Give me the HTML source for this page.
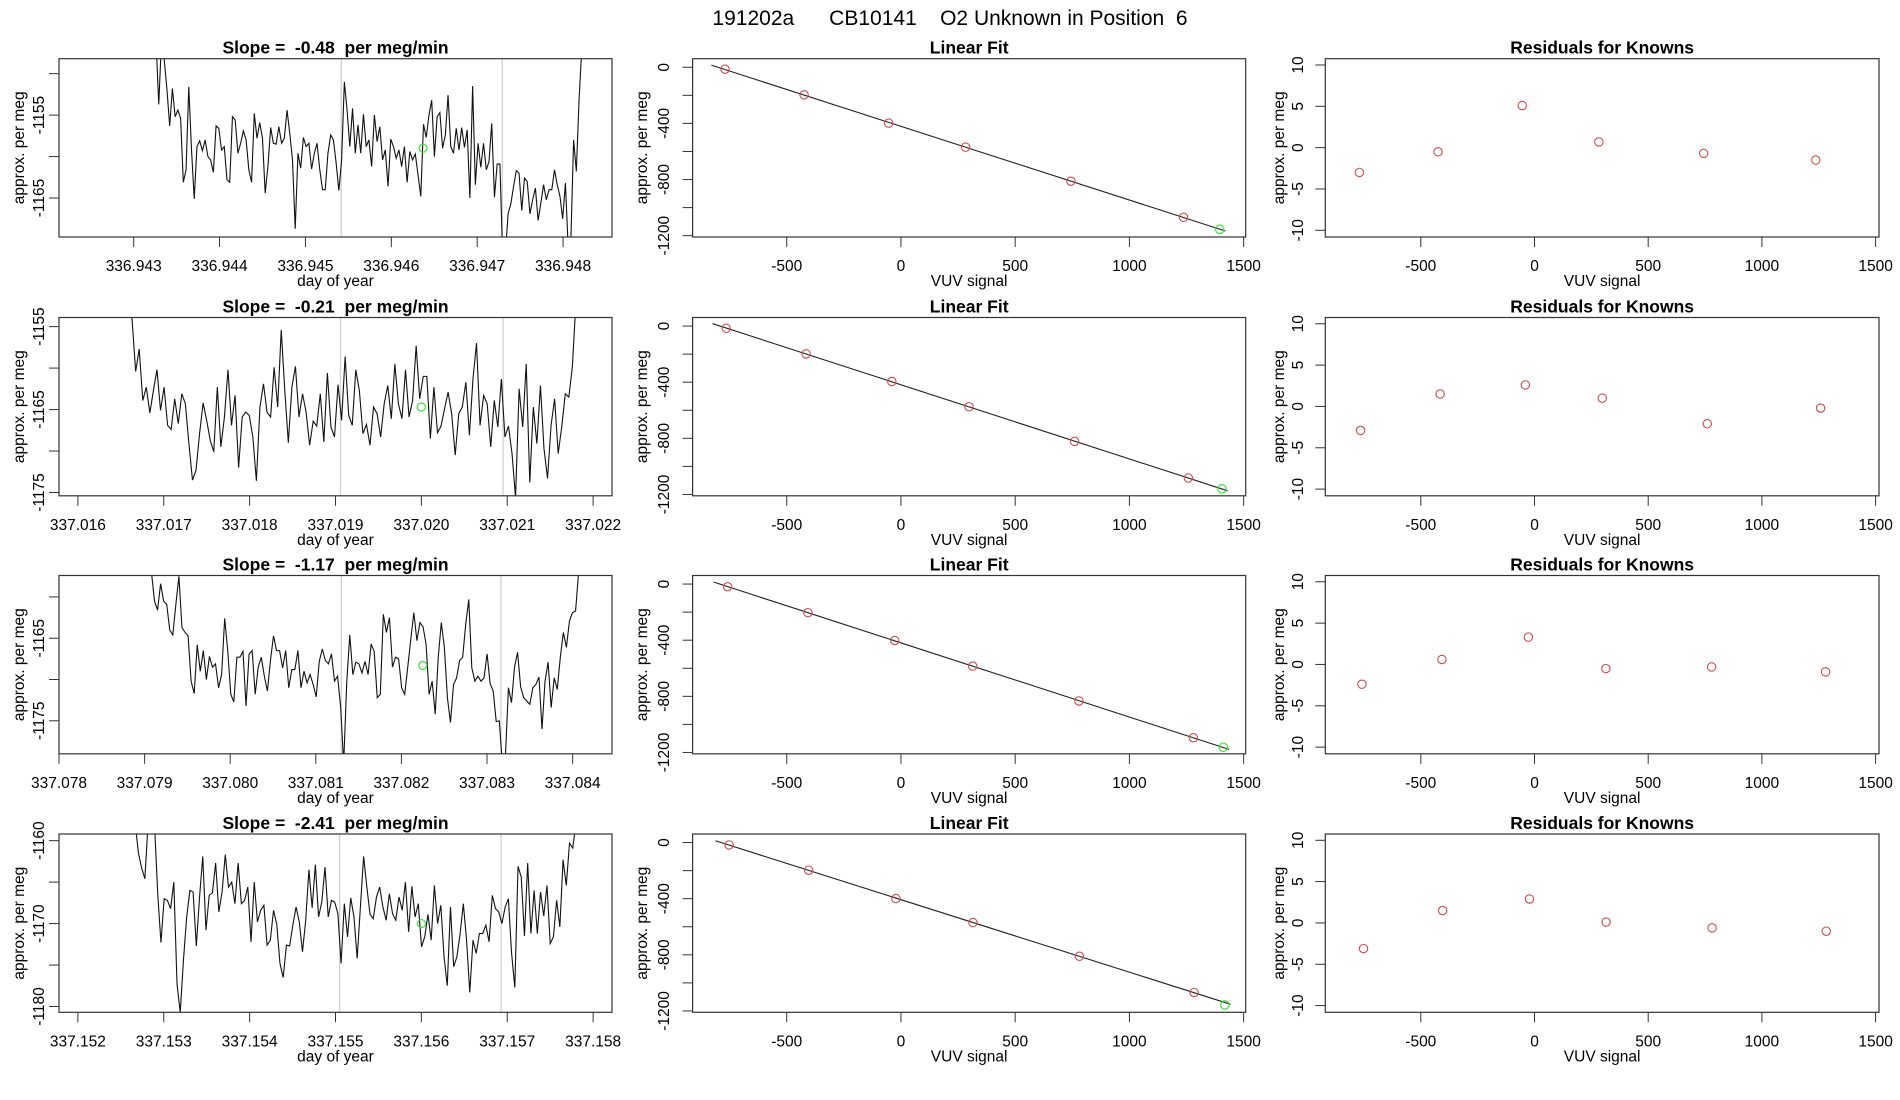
<!DOCTYPE html>
<html><head><meta charset="utf-8"><title>191202a CB10141 O2 Unknown in Position 6</title>
<style>
html,body{margin:0;padding:0;background:#fff;}
svg{display:block;font-family:"Liberation Sans",sans-serif;}
</style></head>
<body>
<svg id="chart" width="1900" height="1100" viewBox="0 0 1900 1100" xmlns="http://www.w3.org/2000/svg">
<rect width="1900" height="1100" fill="#fff"/>
<text x="950" y="25" font-size="21" text-anchor="middle" xml:space="preserve" style="white-space:pre">191202a      CB10141    O2 Unknown in Position  6</text>
</svg>
<script>
// ---------- time series data ----------
const tsStart = [336.94326, 337.01659, 337.07908, 337.15263];
const tsEnd = [336.94825, 337.02180, 337.08407, 337.15780];
const tsDomain = [[336.94213, 336.94857], [337.01578, 337.02222], [337.07800, 337.08446], [337.15178, 337.15822]];
const tsYRange = [[-1169.7, -1148.2], [-1175.4, -1153.9], [-1179.0, -1157.4], [-1180.7, -1159.2]];
const tsYTicks = [[-1165, -1160, -1155, -1150], [-1175, -1170, -1165, -1160, -1155], [-1175, -1170, -1165, -1160], [-1180, -1175, -1170, -1165, -1160]];
const tsYLabels = [[-1165, -1155], [-1175, -1165, -1155], [-1175, -1165], [-1180, -1170, -1160]];
const tsSlopes = ["-0.48", "-0.21", "-1.17", "-2.41"];
const tsGreyLines = [[336.945417, 336.947293], [337.019058, 337.020951], [337.081298, 337.083163], [337.155048, 337.156929]];
const tsUnknownT = [336.94637, 337.02000, 337.08225, 337.15600];
const tsUnknownV = [-1159.0, -1164.7, -1168.3, -1170.0];

const ts1 = [-1146,-1153.7,-1146,-1148.3,-1151.9,-1156.3,-1151.8,-1155.2,-1154.4,-1155.4,-1163.1,-1161.6,-1151.6,-1159.2,-1165.1,-1158.8,-1158.1,-1159.3,-1158.0,-1160.0,-1160.4,-1161.9,-1156.3,-1156.6,-1159.2,-1158.8,-1162.8,-1163.1,-1155.2,-1155.6,-1159.6,-1158.4,-1156.9,-1158.0,-1161.6,-1163.1,-1154.8,-1157.8,-1155.9,-1157.8,-1164.4,-1161.2,-1156.5,-1158.4,-1158.5,-1156.4,-1158.4,-1157.8,-1154.4,-1157.2,-1160.4,-1168.7,-1159.6,-1161.4,-1157.7,-1158.8,-1158.4,-1161.5,-1159.6,-1158.4,-1161.6,-1164.0,-1164.0,-1159.6,-1157.4,-1158.0,-1160.8,-1164.1,-1160.4,-1151.0,-1154.4,-1158.8,-1154.2,-1159.6,-1156.2,-1159.6,-1154.9,-1158.8,-1158.0,-1161.2,-1155.0,-1158.2,-1156.4,-1160.4,-1159.2,-1163.6,-1157.9,-1158.8,-1160.2,-1159.2,-1161.2,-1158.8,-1163.1,-1159.4,-1160.4,-1159.7,-1162.2,-1164.8,-1156.1,-1157.7,-1155.0,-1153.2,-1160.0,-1155.2,-1154.7,-1159.0,-1157.4,-1152.6,-1158.8,-1159.6,-1156.6,-1159.2,-1156.5,-1158.9,-1156.8,-1165.0,-1151.5,-1163.4,-1158.4,-1161.3,-1158.4,-1161.6,-1160.6,-1156.0,-1164.9,-1160.9,-1160.9,-1172,-1171.7,-1166.9,-1165.7,-1163.6,-1161.7,-1162.0,-1166.5,-1162.6,-1163.0,-1166.9,-1165.2,-1163.8,-1167.7,-1165.6,-1163.4,-1165.2,-1164.0,-1164.0,-1161.6,-1163.4,-1164.8,-1167.5,-1163.2,-1170.9,-1170,-1158.0,-1161.8,-1153.1,-1147,-1144];
const ts2 = [-1152,-1154.2,-1160.4,-1157.7,-1163.9,-1162.3,-1165.4,-1162.7,-1160.2,-1165.1,-1162.3,-1166.9,-1167.4,-1163.7,-1166.7,-1163.1,-1164.3,-1169.1,-1173.5,-1172.3,-1167.9,-1164.2,-1166.3,-1168.7,-1170.1,-1162.3,-1169.5,-1165.9,-1160.2,-1166.9,-1163.3,-1172.0,-1165.9,-1165.3,-1165.7,-1168.3,-1173.6,-1164.7,-1161.9,-1165.3,-1165.9,-1159.9,-1164.7,-1155.4,-1162.7,-1169.0,-1162.3,-1159.8,-1165.9,-1163.1,-1165.3,-1169.3,-1166.4,-1167.0,-1163.1,-1168.9,-1160.6,-1167.1,-1168.3,-1162.0,-1166.3,-1158.6,-1165.7,-1166.9,-1160.2,-1162.7,-1167.9,-1166.8,-1169.3,-1164.7,-1165.5,-1168.3,-1164.3,-1162.1,-1166.1,-1159.5,-1164.3,-1166.1,-1160.2,-1165.9,-1163.9,-1157.3,-1163.7,-1161.0,-1161.0,-1168.5,-1162.3,-1167.8,-1167.0,-1164.9,-1162.9,-1165.5,-1170.5,-1165.5,-1164.7,-1161.7,-1168.1,-1161.3,-1157.0,-1166.9,-1163.3,-1164.3,-1169.5,-1163.9,-1167.1,-1161.3,-1168.3,-1167.0,-1170.3,-1175.6,-1162.5,-1167.1,-1159.5,-1173.8,-1164.7,-1169.1,-1162.1,-1169.7,-1173.3,-1166.9,-1163.7,-1170.3,-1167.1,-1163.1,-1163.5,-1159.8,-1152];
const ts3 = [-1157,-1160.5,-1161.6,-1158.4,-1160.5,-1160.9,-1164.0,-1164.6,-1160.9,-1157.5,-1163.7,-1164.3,-1164.7,-1170.2,-1171.7,-1165.8,-1169.0,-1166.5,-1170.0,-1167.2,-1168.5,-1168.1,-1171.0,-1169.4,-1162.6,-1166.5,-1171.8,-1172.7,-1167.3,-1167.3,-1166.6,-1173.2,-1166.9,-1166.5,-1171.8,-1168.5,-1167.3,-1169.6,-1171.4,-1167.7,-1164.7,-1166.5,-1166.5,-1168.6,-1166.5,-1171.0,-1168.8,-1168.8,-1166.5,-1171.0,-1169.0,-1170.4,-1169.4,-1170.6,-1172.1,-1167.8,-1166.3,-1167.7,-1168.1,-1166.9,-1170.2,-1169.6,-1173.3,-1180.2,-1170.4,-1164.6,-1169.4,-1167.9,-1168.1,-1169.2,-1167.8,-1169.4,-1165.7,-1166.6,-1172.2,-1171.8,-1162.1,-1164.3,-1162.5,-1168.5,-1167.3,-1167.5,-1171.0,-1171.8,-1168.5,-1165.1,-1161.9,-1165.3,-1163.1,-1163.6,-1165.7,-1171.8,-1170.2,-1174.2,-1167.3,-1163.1,-1166.1,-1172.2,-1175.2,-1170.6,-1169.8,-1167.7,-1167.3,-1163.3,-1160.3,-1168.6,-1170.2,-1169.6,-1170.2,-1169.8,-1166.9,-1170.5,-1171.4,-1175.1,-1175.0,-1180.2,-1179.4,-1171.0,-1172.8,-1168.5,-1166.7,-1170.9,-1172.2,-1172.6,-1173.0,-1171.0,-1170.6,-1169.7,-1176.0,-1170.2,-1167.9,-1173.4,-1169.8,-1171.2,-1167.3,-1164.3,-1166.1,-1162.9,-1161.9,-1161.7,-1157];
const ts4 = [-1158,-1158,-1161.5,-1163.3,-1164.6,-1158,-1158,-1158,-1166.4,-1172.3,-1167.0,-1167.2,-1168.2,-1165.0,-1177.3,-1180.7,-1174.4,-1169.2,-1166.0,-1166.2,-1172.7,-1166.8,-1161.9,-1170.8,-1166.6,-1166.3,-1162.7,-1168.6,-1166.2,-1161.7,-1165.6,-1165.0,-1167.6,-1162.7,-1167.6,-1167.2,-1165.6,-1172.2,-1165.0,-1169.8,-1168.4,-1167.8,-1172.6,-1172.0,-1168.4,-1170.1,-1174.8,-1176.5,-1172.6,-1172.7,-1170.2,-1168.0,-1169.8,-1173.4,-1169.6,-1163.5,-1168.1,-1162.9,-1169.2,-1167.4,-1163.2,-1169.2,-1167.2,-1167.4,-1168.8,-1174.8,-1167.6,-1171.6,-1166.9,-1169.2,-1174.2,-1168.0,-1161.9,-1165.6,-1168.9,-1169.4,-1166.8,-1165.6,-1168.0,-1169.6,-1166.4,-1168.8,-1169.6,-1166.8,-1168.4,-1165.0,-1171.0,-1165.5,-1169.2,-1167.6,-1172.8,-1171.6,-1168.9,-1172.0,-1165.4,-1170.0,-1167.8,-1174.0,-1177.5,-1168.0,-1175.2,-1174.0,-1171.2,-1167.6,-1172.0,-1178.3,-1172.0,-1173.6,-1171.2,-1171.2,-1170.2,-1172.2,-1166.6,-1168.2,-1168.6,-1170.0,-1168.0,-1167.0,-1173.6,-1177.7,-1163.1,-1164.4,-1171.5,-1162.7,-1171.2,-1166.0,-1171.2,-1166.2,-1169.1,-1165.4,-1172.4,-1171.6,-1167.2,-1170.4,-1162.3,-1165.4,-1160.3,-1160.9,-1158];
const tsValues = [ts1, ts2, ts3, ts4];

// ---------- linear fit / residual data ----------
const fitX1 = [-770, -424, -54, 283, 744, 1237];
const fitX2 = [-765, -415, -40, 298, 760, 1258];
const fitX3 = [-759, -407, -27, 314, 779, 1280];
const fitX4 = [-752, -404, -22, 315, 781, 1283];
const fitY1 = [-14, -197, -398, -569, -812, -1069];
const fitY2 = [-16, -198, -395, -575, -822, -1083];
const fitY3 = [-19, -204, -402, -585, -833, -1095];
const fitY4 = [-17, -197, -399, -570, -810, -1069];
const unknownX = [1395, 1405, 1411, 1418];
const unknownY = [-1155, -1160, -1163, -1157];
const resid1 = [-3.0, -0.5, 5.1, 0.7, -0.7, -1.5];
const resid2 = [-2.9, 1.5, 2.6, 1.0, -2.1, -0.2];
const resid3 = [-2.4, 0.6, 3.3, -0.5, -0.3, -0.9];
const resid4 = [-3.1, 1.5, 2.9, 0.1, -0.6, -1.0];
const fitXs = [fitX1, fitX2, fitX3, fitX4];
const fitYs = [fitY1, fitY2, fitY3, fitY4];
const resids = [resid1, resid2, resid3, resid4];
const fitXTicks = [-500, 0, 500, 1000, 1500];
const fitYTicks = [0, -200, -400, -600, -800, -1000, -1200];
const fitYLabels = [0, -400, -800, -1200];
const resYTicks = [-10, -5, 0, 5, 10];

// ---------- layout ----------
const NS = "http://www.w3.org/2000/svg";
const svg = document.getElementById("chart");
const rowTops = [58.7, 317.5, 575.5, 834];
const boxH = 178.3;
const cols = [[59, 612], [692.6, 1245.7], [1325.3, 1879]];
const fitDomX = [-912, 1509], fitDomY = [-1209.5, 61];
const resDomX = [-920, 1515], resDomY = [-10.81, 10.76];

function mk(tag, attrs, parent) {
  const e = document.createElementNS(NS, tag);
  for (const k in attrs) e.setAttribute(k, attrs[k]);
  (parent || svg).appendChild(e);
  return e;
}
function scale(d0, d1, r0, r1) { return v => r0 + (v - d0) / (d1 - d0) * (r1 - r0); }

function frame(g, x0, x1, top, title, name) {
  const b = mk("rect", {x: x0, y: top, width: x1 - x0, height: boxH, fill: "none", stroke: "#333", "stroke-width": 1.2}, g);
  
  
  const t = mk("text", {x: (x0 + x1) / 2, y: top - 5, "font-size": 17.5, "font-weight": "bold", "text-anchor": "middle", style: "white-space:pre"}, g);
  t.setAttributeNS("http://www.w3.org/XML/1998/namespace", "xml:space", "preserve");
  t.textContent = title;
  
  
}
function xAxis(g, sx, ticks, fmt, bottom, label, name, cx) {
  ticks.forEach(v => {
    const x = sx(v);
    const l = mk("line", {x1: x, x2: x, y1: bottom, y2: bottom + 10, stroke: "#333", "stroke-width": 1}, g);
    
    
    const t = mk("text", {x: x, y: bottom + 34, "font-size": 15.5, "text-anchor": "middle"}, g);
    t.textContent = fmt(v);
    
    
  });
  const t = mk("text", {x: cx, y: bottom + 49, "font-size": 15.5, "text-anchor": "middle"}, g);
  t.textContent = label;
  
  
}
function yAxis(g, sy, x0, ticks, labels, labelX, titleX, top, name) {
  ticks.forEach(v => {
    const y = sy(v);
    const l = mk("line", {x1: x0 - 10, x2: x0, y1: y, y2: y, stroke: "#333", "stroke-width": 1}, g);
    
    
  });
  labels.forEach(v => {
    const y = sy(v);
    const t = mk("text", {x: labelX, y: y, "font-size": 15.5, "text-anchor": "middle", transform: "rotate(-90 " + labelX + " " + y + ")"}, g);
    t.textContent = String(v);
    
    
  });
  const cy = top + boxH / 2;
  const t = mk("text", {x: titleX, y: cy, "font-size": 15.5, "text-anchor": "middle", transform: "rotate(-90 " + titleX + " " + cy + ")"}, g);
  t.textContent = "approx. per meg";
  
  
}

for (let r = 0; r < 4; r++) {
  const top = rowTops[r], bottom = top + boxH;
  // ----- time series -----
  const g1 = mk("g", {});
  
  
  const [ax0, ax1] = cols[0];
  const sx = scale(tsDomain[r][0], tsDomain[r][1], ax0, ax1);
  const sy = scale(tsYRange[r][0], tsYRange[r][1], bottom, top);
  const clip = mk("clipPath", {id: "clip" + r}, g1);
  mk("rect", {x: ax0, y: top, width: ax1 - ax0, height: boxH}, clip);
  tsGreyLines[r].forEach(v => {
    const l = mk("line", {x1: sx(v), x2: sx(v), y1: top, y2: bottom, stroke: "#d0d0d0", "stroke-width": 1.3}, g1);
    
    
  });
  const vals = tsValues[r];
  const n = vals.length;
  const pts = vals.map((v, i) => {
    const t = tsStart[r] + (tsEnd[r] - tsStart[r]) * i / (n - 1);
    return sx(t).toFixed(2) + "," + sy(v).toFixed(2);
  }).join(" ");
  const pl = mk("polyline", {points: pts, fill: "none", stroke: "#111", "stroke-width": 1.1, "clip-path": "url(#clip" + r + ")"}, g1);
  
  
  const gc = mk("circle", {cx: sx(tsUnknownT[r]), cy: sy(tsUnknownV[r]), r: 4, fill: "none", stroke: "#3ee23e", "stroke-width": 1.2}, g1);
  
  
  frame(g1, ax0, ax1, top, "Slope =  " + tsSlopes[r] + "  per meg/min", "slope");
  const tk = [];
  for (let k = Math.ceil(tsDomain[r][0] * 1000 - 1e-6); k <= Math.floor(tsDomain[r][1] * 1000 + 1e-6); k++) tk.push(k / 1000);
  xAxis(g1, sx, tk, v => v.toFixed(3), bottom, "day of year", "time-series", (ax0 + ax1) / 2);
  yAxis(g1, sy, ax0, tsYTicks[r], tsYLabels[r], 44, 24, top, "time-series");

  // ----- linear fit -----
  const g2 = mk("g", {});
  
  
  const [bx0, bx1] = cols[1];
  const fx = scale(fitDomX[0], fitDomX[1], bx0, bx1);
  const fy = scale(fitDomY[0], fitDomY[1], bottom, top);
  const X = fitXs[r], Y = fitYs[r];
  const mx = X.reduce((a, b) => a + b, 0) / X.length, my = Y.reduce((a, b) => a + b, 0) / Y.length;
  let sxy = 0, sxx = 0;
  X.forEach((x, i) => { sxy += (x - mx) * (Y[i] - my); sxx += (x - mx) * (x - mx); });
  const slope = sxy / sxx, icpt = my - slope * mx;
  const lx0 = X[0] - 60, lx1 = unknownX[r] + 25;
  const fl = mk("line", {x1: fx(lx0), y1: fy(icpt + slope * lx0), x2: fx(lx1), y2: fy(icpt + slope * lx1), stroke: "#222", "stroke-width": 1.1}, g2);
  
  
  X.forEach((x, i) => {
    const c = mk("circle", {cx: fx(x), cy: fy(Y[i]), r: 4.2, fill: "none", stroke: "#d24b4b", "stroke-width": 1.1}, g2);
    
    
  });
  const uc = mk("circle", {cx: fx(unknownX[r]), cy: fy(unknownY[r]), r: 4.2, fill: "none", stroke: "#3ee23e", "stroke-width": 1.2}, g2);
  
  
  frame(g2, bx0, bx1, top, "Linear Fit", "linear-fit");
  xAxis(g2, fx, fitXTicks, v => String(v), bottom, "VUV signal", "linear-fit", (bx0 + bx1) / 2);
  yAxis(g2, fy, bx0, fitYTicks, fitYLabels, 669, 647, top, "linear-fit");

  // ----- residuals -----
  const g3 = mk("g", {});
  
  
  const [cx0, cx1] = cols[2];
  const rx = scale(resDomX[0], resDomX[1], cx0, cx1);
  const ry = scale(resDomY[0], resDomY[1], bottom, top);
  resids[r].forEach((v, i) => {
    const c = mk("circle", {cx: rx(X[i]), cy: ry(v), r: 4.2, fill: "none", stroke: "#d24b4b", "stroke-width": 1.1}, g3);
    
    
  });
  frame(g3, cx0, cx1, top, "Residuals for Knowns", "residuals");
  xAxis(g3, rx, fitXTicks, v => String(v), bottom, "VUV signal", "residuals", (cx0 + cx1) / 2);
  yAxis(g3, ry, cx0, resYTicks, resYTicks, 1303, 1284, top, "residuals");
}
</script>
</body></html>
